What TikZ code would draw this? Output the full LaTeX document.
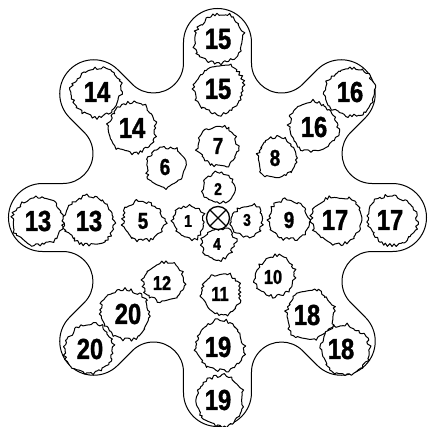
\documentclass[tikz,border=0pt]{standalone}
\usepackage{fontspec}
\newfontfamily\numfont[FakeStretch=0.82,FakeBold=1.2]{Liberation Sans}
\newcommand\blobat[4]{%
  \pgfmathsetmacro\pha{360*rnd}%
  \pgfmathsetmacro\phb{360*rnd}%
  \pgfmathtruncatemacro\nsamp{360/#4}%
  \pgfmathsetmacro\dmax{360-#4}%
  \draw[blobline, shift={(#1,#2)}] plot[samples=\nsamp, domain=0:\dmax, variable=\t]
    (\t:{#3 + 0.8*sin(2*\t+\pha) + 0.7*sin(3*\t+\phb) + 0.6*sin(7*\t+\pha) + 0.4*rnd
      + (rnd<0.3 ? 1.5+1.6*rnd : 0)}) -- cycle;}
\begin{document}
\begin{tikzpicture}[x=1pt,y=-1pt,
  blobline/.style={draw, fill=white, line width=1pt, line join=round},
  bignum/.style={inner sep=0pt, font=\numfont\bfseries\fontsize{29}{29}\selectfont},
  midnum/.style={inner sep=0pt, font=\numfont\bfseries\fontsize{23}{23}\selectfont},
  midtwo/.style={inner sep=0pt, font=\numfont\bfseries\fontsize{20}{20}\selectfont},
  smallnum/.style={inner sep=0pt, font=\numfont\bfseries\fontsize{17}{17}\selectfont},
  outline/.style={draw, line width=1pt}]
\pgfmathsetseed{5}
\useasboundingbox (0,0) rectangle (430,427);
% star outline
\coordinate (O) at (217.5,217.5);
\path[outline] (O) ++(-12.41:158.2)
  \foreach \a in {0,45,...,315} {
    -- ++(\a:20.5)
    arc[start angle=\a-90, end angle=\a+90, radius=34]
    -- ++(\a+180:20.5)
    arc[start angle=\a-90, end angle=\a-225, radius=30]
  } -- cycle;
% top arm
\blobat{219}{39}{23.5}{5}\node[bignum] (n15a) at (218,39) {15};
\blobat{219}{89}{23.5}{5}\node[bignum] (n15b) at (218,89) {15};
\blobat{218}{146}{19}{6}\node[midnum] (n7) at (218,146) {7};
% top-left arm
\blobat{97}{92}{23.5}{5}\node[bignum] (n14a) at (97,92) {14};
\blobat{132}{128}{23.5}{5}\node[bignum] (n14b) at (132,128) {14};
\blobat{166}{167}{19}{6}\node[midnum] (n6) at (165,167) {6};
% top-right arm
\blobat{350}{92}{23.5}{5}\node[bignum] (n16a) at (350,92) {16};
\blobat{313}{127}{23.5}{5}\node[bignum] (n16b) at (314,127) {16};
\blobat{277}{158}{19}{6}\node[midnum] (n8) at (275,158) {8};
% left arm
\blobat{38}{221}{23.5}{5}\node[bignum] (n13a) at (38,221) {13};
\blobat{89}{221}{23.5}{5}\node[bignum] (n13b) at (89,221) {13};
\blobat{143}{221}{19}{6}\node[midnum] (n5) at (143,221) {5};
% right arm
\blobat{289}{220}{19}{6}\node[midnum] (n9) at (289,220) {9};
\blobat{337}{220}{23.5}{5}\node[bignum] (n17a) at (335,220) {17};
\blobat{392}{220}{23.5}{5}\node[bignum] (n17b) at (390,220) {17};
% bottom-left arm
\blobat{164}{282}{19}{6}\node[midtwo] (n12) at (162,283) {12};
\blobat{125}{314}{23.5}{5}\node[bignum] (n20a) at (128,314) {20};
\blobat{89}{349}{23.5}{5}\node[bignum] (n20b) at (90,349) {20};
% bottom-right arm
\blobat{275}{276}{19}{6}\node[midtwo] (n10) at (273,277) {10};
\blobat{310}{315}{23.5}{5}\node[bignum] (n18a) at (307,315) {18};
\blobat{345}{350}{23.5}{5}\node[bignum] (n18b) at (341,349) {18};
% bottom arm
\blobat{221}{294}{19}{6}\node[midtwo] (n11) at (220,294) {11};
\blobat{220}{346}{23.5}{5}\node[bignum] (n19a) at (218,347) {19};
\blobat{220}{401}{23.5}{5}\node[bignum] (n19b) at (218,400) {19};
% centre
\blobat{189}{222}{15}{8}\node[smallnum] (n1) at (188,221) {1};
\blobat{219}{188}{15}{8}\node[smallnum] (n2) at (218,189) {2};
\blobat{247}{221}{15}{8}\node[smallnum] (n3) at (247,220) {3};
\blobat{218}{244}{15}{8}\node[smallnum] (n4) at (217,244) {4};
\node[draw, fill=white, circle, minimum size=23pt, inner sep=0pt, line width=1.3pt,
  path picture={\draw[line width=1.3pt]
    (path picture bounding box.north west) -- (path picture bounding box.south east)
    (path picture bounding box.north east) -- (path picture bounding box.south west);}]
  (ctr) at (218,218) {};
\end{tikzpicture}
\end{document}
